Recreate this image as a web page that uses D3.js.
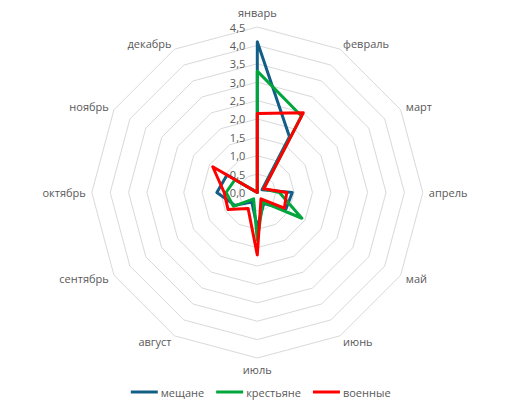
<!DOCTYPE html>
<html><head><meta charset="utf-8">
<script src="https://cdn.jsdelivr.net/npm/d3@7"></script>
<style>
html,body{margin:0;padding:0;background:#fff;}
svg text{font-family:"Open Sans",sans-serif;font-size:11px;fill:#595959;}
</style></head>
<body><svg id="c" width="515" height="412"></svg>
<script>
const months = ["январь","февраль","март","апрель","май","июнь","июль","август","сентябрь","октябрь","ноябрь","декабрь"];
const seriesNames = ["мещане","крестьяне","военные"];
const seriesColors = ["#135E86","#00A63C","#FF0000"];
const meshchane = [4.1,1.75,0.15,0.95,0.9,0.35,0.95,0.3,0.7,1.1,0.95,0];
const krestyane = [3.3,2.4,0.2,0.6,1.4,0.3,1.3,0.2,0.75,0.85,0.7,0];
const voennye   = [2.15,2.5,0.2,0.8,0.85,0.2,1.7,0.5,0.92,0.9,1.4,0];
const tickValues = [0,0.5,1,1.5,2,2.5,3,3.5,4,4.5];
const tickLabels = ["0,0","0,5","1,0","1,5","2,0","2,5","3,0","3,5","4,0","4,5"];

const data = [meshchane, krestyane, voennye];
const svg = d3.select("#c");
const cx = 257.3, cy = 192.5, R = 165.5;
const r = d3.scaleLinear().domain([0,4.5]).range([0,R]);
const ang = d3.scaleLinear().domain([0,months.length]).range([0,2*Math.PI]);
const g = svg.append("g").attr("transform",`translate(${cx},${cy})`);

// grid rings
const ringLine = d3.lineRadial().angle((d,i)=>ang(i)).radius(d=>r(d)).curve(d3.curveLinearClosed);
g.selectAll("path.ring").data(tickValues.filter(v=>v>0)).enter().append("path")
  .attr("class","ring")
  .attr("d",v=>ringLine(months.map(()=>v)))
  .attr("fill","none").attr("stroke","#D9D9D9").attr("stroke-width",1);

// tick labels
g.selectAll("text.tick").data(tickValues).enter().append("text")
  .attr("class","tick")
  .attr("x",-12).attr("y",v=>-r(v))
  .attr("text-anchor","end").attr("dominant-baseline","central")
  .text((v,i)=>tickLabels[i]);

// category labels
g.selectAll("text.cat").data(months).enter().append("text")
  .attr("class","cat")
  .each(function(m,i){
    const a = ang(i), sx = Math.sin(a), sy = -Math.cos(a);
    const rr = R + 6;
    let x = rr*sx, y = rr*sy;
    let anchor = Math.abs(sx)<0.1 ? "middle" : (sx>0 ? "start" : "end");
    if (Math.abs(sx)<0.1) { y = sy<0 ? -R-14.5 : R+11; }
    d3.select(this).attr("x",x).attr("y",y).attr("text-anchor",anchor).attr("dominant-baseline","central").text(m);
  });

// series
const line = d3.lineRadial().angle((d,i)=>ang(i)).radius(d=>r(d)).curve(d3.curveLinearClosed);
g.selectAll("path.series").data(data).enter().append("path")
  .attr("class","series")
  .attr("d",d=>line(d))
  .attr("fill","none")
  .attr("stroke",(d,i)=>seriesColors[i])
  .attr("stroke-width",3)
  .attr("stroke-linejoin","round");

// legend
const leg = svg.append("g");
let x = 0;
const gap = 12;
seriesNames.forEach((n,i)=>{
  const it = leg.append("g").attr("transform",`translate(${x},0)`);
  it.append("line").attr("x1",0).attr("x2",27).attr("y1",0).attr("y2",0)
    .attr("stroke",seriesColors[i]).attr("stroke-width",3);
  const t = it.append("text").attr("x",30).attr("y",0).attr("dominant-baseline","central").text(n);
  const w = t.node().getComputedTextLength();
  x += 30 + w + gap;
});
const total = x - gap;
leg.attr("transform",`translate(${260.7 - total/2},392)`);
</script></body></html>
